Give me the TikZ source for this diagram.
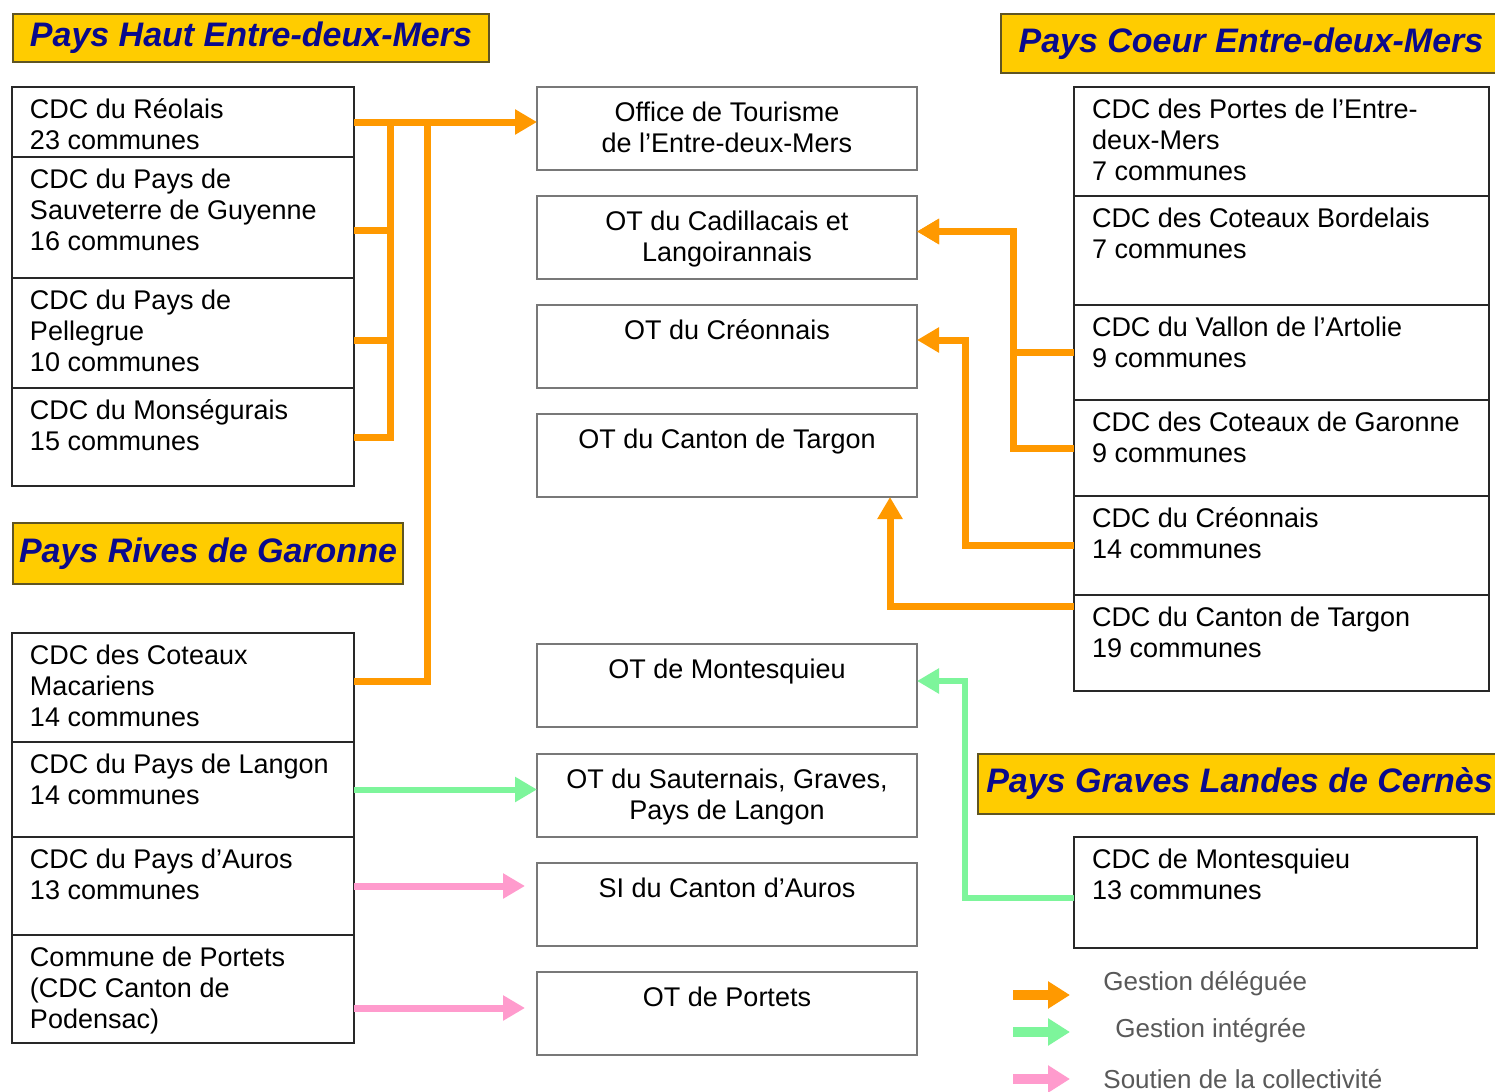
\documentclass[tikz,border=0pt]{standalone}
\usepackage{fontspec}
\setmainfont{Liberation Sans}
\usepackage{tikz}
\definecolor{paysyellow}{RGB}{255,204,0}
\definecolor{paysblue}{RGB}{10,10,140}
\definecolor{paysborder}{RGB}{95,85,35}
\definecolor{boxline}{RGB}{40,40,40}
\definecolor{otline}{RGB}{120,120,120}
\definecolor{orangedeleg}{RGB}{255,153,0}
\definecolor{vertinteg}{RGB}{125,245,155}
\definecolor{rosesoutien}{RGB}{255,155,205}
\usetikzlibrary{arrows.meta,positioning}
\tikzset{%
  cdc/.style={draw=boxline, line width=1pt, anchor=north west, inner xsep=9pt,
    inner ysep=5pt, outer sep=0pt, font=\fontsize{13.5}{15.5}\selectfont},% communaute de communes
  ot/.style={cdc, draw=otline, inner ysep=6.5pt},% office de tourisme
  pays/.style={draw=paysborder, fill=paysyellow, line width=1pt, anchor=north west,
    inner sep=0pt, text=paysblue, font=\fontsize{17}{20}\selectfont\bfseries\itshape},% pays title
  deleg/.style={draw=orangedeleg, line width=3.5pt},% gestion deleguee
  integ/.style={draw=vertinteg, line width=3pt},% gestion integree
  soutien/.style={draw=rosesoutien, line width=3.5pt},% soutien
  fleche/.style={-{Triangle[width=12pt,length=11pt]}},
  legende/.style={line width=5pt, -{Triangle[width=13pt,length=11pt]}},
  legtext/.style={anchor=west, inner sep=0pt, text=black!65, font=\fontsize{13}{15}\selectfont}
}
\newcommand*{\cdcbox}[3]{\parbox[c][#2][t]{#1}{\raggedright\strut#3}}
\newcommand*{\otbox}[1]{\parbox[c][28.5pt][t]{172pt}{\centering\strut#1}}

\begin{document}
\begin{tikzpicture}[x=0.5pt, y=-0.5pt]
\useasboundingbox (0,0) rectangle (1495,1092);
\fill[white] (0,0) rectangle (1495,1092);

% pays
\node[pays, minimum width=238pt, minimum height=24pt]   (haut)   at (12,13)  {Pays Haut Entre-deux-Mers};
\node[pays, minimum width=250pt, minimum height=29.5pt] (coeur)  at (1000,13) {Pays Coeur Entre-deux-Mers};
\node[pays, minimum width=195pt, minimum height=30.5pt] (rives)  at (12,522) {Pays Rives de Garonne};
\node[pays, minimum width=261.5pt, minimum height=30pt] (graves) at (977,753) {Pays Graves Landes de Cernès};

% left column
\node[cdc] (reolais)  at (12,87)  {\cdcbox{153pt}{25pt}{CDC du Réolais\\23 communes}};
\node[cdc] (sauv)     at (12,157) {\cdcbox{153pt}{50.5pt}{CDC du Pays de\\Sauveterre de Guyenne\\16 communes}};
\node[cdc] (pelle)    at (12,278) {\cdcbox{153pt}{45pt}{CDC du Pays de\\Pellegrue\\10 communes}};
\node[cdc] (monseg)   at (12,388) {\cdcbox{153pt}{39pt}{CDC du Monségurais\\15 communes}};
\node[cdc] (macar)    at (12,633) {\cdcbox{153pt}{44.5pt}{CDC des Coteaux\\Macariens\\14 communes}};
\node[cdc] (langon)   at (12,742) {\cdcbox{153pt}{37.5pt}{CDC du Pays de Langon\\14 communes}};
\node[cdc] (auros)    at (12,837) {\cdcbox{153pt}{39pt}{CDC du Pays d’Auros\\13 communes}};
\node[cdc] (portets)  at (12,935) {\cdcbox{153pt}{44pt}{Commune de Portets\\(CDC Canton de\\Podensac)}};

% offices
\node[ot] (otedm)    at (537,87)  {\otbox{Office de Tourisme\\de l’Entre-deux-Mers}};
\node[ot] (otcadi)   at (537,196) {\otbox{OT du Cadillacais et\\Langoirannais}};
\node[ot] (otcreo)   at (537,305) {\otbox{OT du Créonnais}};
\node[ot] (ottarg)   at (537,414) {\otbox{OT du Canton de Targon}};
\node[ot] (otmont)   at (537,644) {\otbox{OT de Montesquieu}};
\node[ot] (otsaut)   at (537,754) {\otbox{OT du Sauternais, Graves,\\Pays de Langon}};
\node[ot] (siauros)  at (537,863) {\otbox{SI du Canton d’Auros}};
\node[ot] (otport)   at (537,972) {\otbox{OT de Portets}};

% right column
\node[cdc] (portes)   at (1074,87)  {\cdcbox{189.5pt}{44.5pt}{CDC des Portes de l’Entre-\\deux-Mers\\7 communes}};
\node[cdc] (bordel)   at (1074,196) {\cdcbox{189.5pt}{44.5pt}{CDC des Coteaux Bordelais\\7 communes}};
\node[cdc] (vallon)   at (1074,305) {\cdcbox{189.5pt}{37.5pt}{CDC du Vallon de l’Artolie\\9 communes}};
\node[cdc] (garonne)  at (1074,400) {\cdcbox{189.5pt}{38pt}{CDC des Coteaux de Garonne\\9 communes}};
\node[cdc] (creon)    at (1074,496) {\cdcbox{189.5pt}{39.5pt}{CDC du Créonnais\\14 communes}};
\node[cdc] (targon)   at (1074,595) {\cdcbox{189.5pt}{38pt}{CDC du Canton de Targon\\19 communes}};
\node[cdc] (montcdc)  at (1074,837) {\cdcbox{183.5pt}{45.5pt}{CDC de Montesquieu\\13 communes}};

\coordinate (busa) at (390,122);
\coordinate (busb) at (427,122);

\draw[deleg, fleche] (reolais.east) -- (otedm.west |- reolais.east);
\draw[deleg] ([yshift=-6.25pt]sauv.east) -| (busa);
\draw[deleg] ([yshift=-3.5pt]pelle.east) -| (busa);
\draw[deleg] (monseg.east) -| (busa);
\draw[deleg] ([yshift=3.25pt]macar.east) -| (busb);

\draw[deleg, fleche] (vallon.west) -- ++(-61,0) |- ([yshift=3pt]otcadi.east);
\draw[deleg, fleche] (garonne.west) -- ++(-61,0) |- ([yshift=3pt]otcadi.east);
\draw[deleg, fleche] (creon.west) -- ++(-109,0) |- ([yshift=3.25pt]otcreo.east);
\draw[deleg, fleche] ([yshift=18.5pt]targon.west) -| ([xshift=81.5pt]ottarg.south);

\draw[integ, fleche] ([yshift=-2.75pt]montcdc.west) -- ++(-109,0) |- ([yshift=2.25pt]otmont.east);
\draw[integ, fleche] (langon.east) -- (otsaut.west |- langon.east);

\draw[soutien, fleche] (auros.east) -- ++(171,0);
\draw[soutien, fleche] ([yshift=-9.5pt]portets.east) -- ++(171,0);

% legend
\coordinate (adeleg) at (1013,995);
\coordinate (ainteg) at (1013,1032);
\coordinate (asout)  at (1013,1079);
\draw[legende, draw=orangedeleg] (adeleg) -- ++(57,0);
\draw[legende, draw=vertinteg]   (ainteg) -- ++(57,0);
\draw[legende, draw=rosesoutien] (asout) -- ++(57,0);
\node[legtext] (ldeleg) at (1103,984)  {Gestion déléguée};
\node[legtext] (linteg) at (1115,1031) {Gestion intégrée};
\node[legtext] (lsout)  at (1103,1079) {Soutien de la collectivité};

\end{tikzpicture}
\end{document}
